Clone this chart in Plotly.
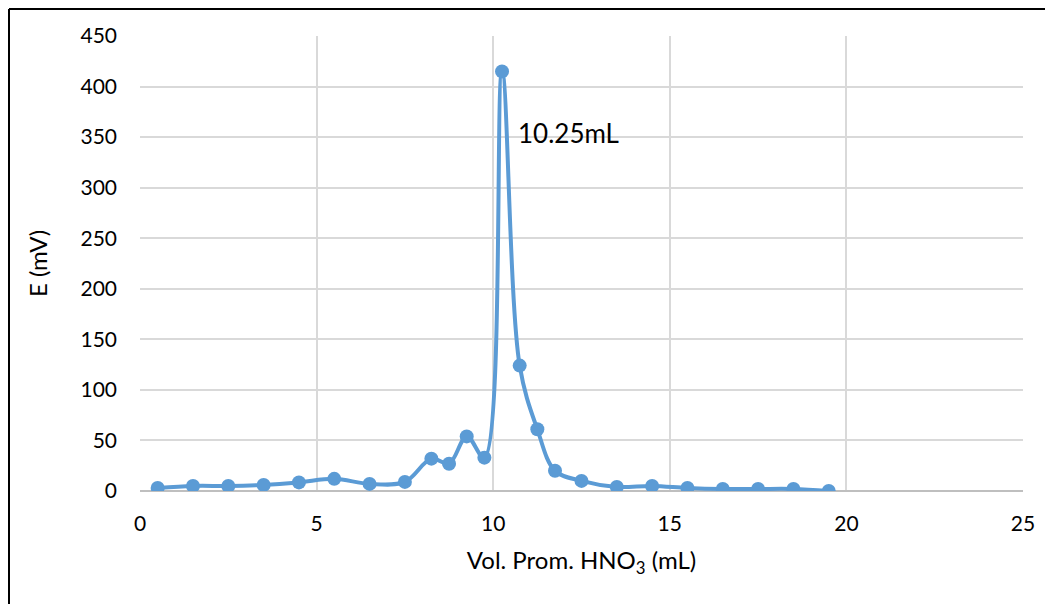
import plotly.graph_objects as go

volume_ml = [0.5, 1.5, 2.5, 3.5, 4.5, 5.5, 6.5, 7.5, 8.25, 8.75, 9.25, 9.75,
             10.25, 10.75, 11.25, 11.75, 12.5, 13.5, 14.5, 15.5, 16.5, 17.5, 18.5, 19.5]
potential_mv = [3, 5, 5, 6, 8.5, 12, 7, 9, 32, 27, 54, 33,
                415, 124, 61, 20, 10, 4, 5, 3, 2, 2, 2, 0]
x_ticks = [0, 5, 10, 15, 20, 25]
y_ticks = [0, 50, 100, 150, 200, 250, 300, 350, 400, 450]
peak_label = "10.25mL"

FONT = "Lato, 'Open Sans', sans-serif"
BLUE = "#5B9BD5"

ML, MR, MT, MB = 132, 38, 28, 121
W, H = 1053, 604
PW, PH = W - ML - MR, H - MT - MB

fig = go.Figure()
fig.add_trace(go.Scatter(
    x=volume_ml, y=potential_mv, mode="lines+markers",
    line=dict(color=BLUE, width=4, shape="spline", smoothing=1),
    marker=dict(color=BLUE, size=14),
    showlegend=False,
))

fig.add_annotation(x=10.65, y=354, text=peak_label, showarrow=False,
                   xanchor="left", yanchor="middle",
                   font=dict(family=FONT, size=26, color="#000000"))

# outer chart border: only left and top edges are inside the picture
bx0 = (1 - ML) / PW
by1 = (PH + MT - 1) / PH
fig.add_shape(type="line", xref="paper", yref="paper",
              x0=bx0, x1=bx0, y0=-(MB + 20) / PH, y1=by1,
              line=dict(color="#000000", width=2), layer="above")
fig.add_shape(type="line", xref="paper", yref="paper",
              x0=bx0, x1=(W - ML) / PW, y0=by1, y1=by1,
              line=dict(color="#000000", width=2), layer="above")

fig.update_layout(
    width=W, height=H,
    margin=dict(l=ML, r=MR, t=MT, b=MB),
    paper_bgcolor="white", plot_bgcolor="white",
    font=dict(family=FONT, size=21, color="#000000"),
    xaxis=dict(range=[0, 25], tickvals=x_ticks, showgrid=True, gridcolor="#d9d9d9",
               gridwidth=1.5, zeroline=False, showline=False, ticks="",
               ticklabelstandoff=18,
               title=dict(text="Vol. Prom. HNO<sub>3</sub> (mL)", standoff=18,
                          font=dict(family=FONT, size=24)),
               tickfont=dict(family=FONT, size=21)),
    yaxis=dict(range=[0, 450], tickvals=y_ticks, showgrid=True, gridcolor="#d9d9d9",
               gridwidth=1.5, zeroline=True, zerolinecolor="#bfbfbf", zerolinewidth=1.5,
               showline=False, ticks="", ticklabelstandoff=22,
               title=dict(text="E (mV)", standoff=26, font=dict(family=FONT, size=24)),
               tickfont=dict(family=FONT, size=21)),
)

fig.write_html("out.html")
